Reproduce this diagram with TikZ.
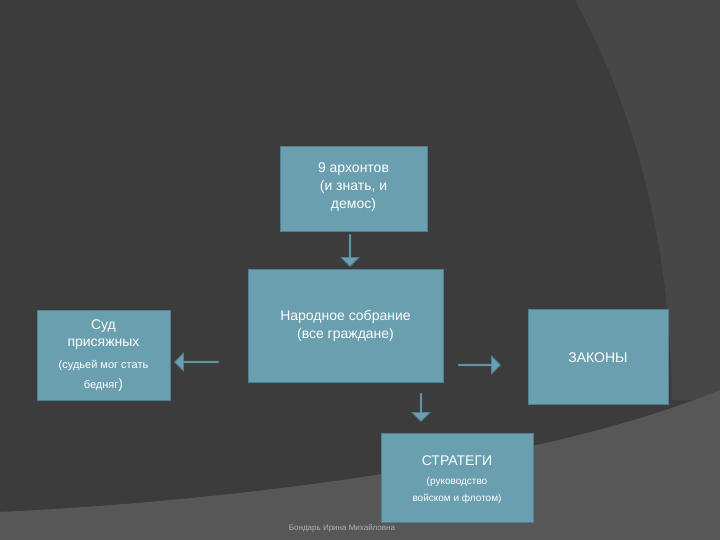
\documentclass[tikz,border=0pt]{standalone}
\usepackage{fontspec}
\setmainfont{Liberation Sans}
\usetikzlibrary{shapes.arrows}
\definecolor{bgdark}{HTML}{3C3C3C}
\definecolor{bgmid}{HTML}{474747}
\definecolor{bglight}{HTML}{575757}
\definecolor{boxfill}{HTML}{6A9FB0}
\definecolor{boxline}{HTML}{4F8193}
\tikzset{
  box/.style={draw=boxline, line width=1pt, fill=boxfill, text=white, align=center, inner sep=0pt},
  blockarrow/.style={single arrow, draw=boxline, fill=boxfill, minimum height=#1, minimum width=18pt, single arrow head extend=3pt, inner sep=0pt, single arrow tip angle=90, line width=0.6pt},
}
\begin{document}
\begin{tikzpicture}[x=1pt,y=-1pt]
\useasboundingbox (0,0) rectangle (720,540);
\fill[bgdark] (0,0) rectangle (720,540);
\fill[bgmid] (575,0) .. controls (640,120) and (670,250) .. (672,400) -- (720,400) -- (720,0) -- cycle;
\fill[bglight] (0,512) .. controls (250,500) and (550,460) .. (720,390) -- (720,540) -- (0,540) -- cycle;

\node[box, minimum width=147pt, minimum height=85pt, anchor=north west] (arch) at (280,146) {};
\node[text=white, align=center, font=\fontsize{14}{18}\selectfont] at (353.5,187) {9 архонтов\\(и знать, и\\демос)};

\node[box, minimum width=195pt, minimum height=113pt, anchor=north west] (nar) at (248,269) {};
\node[text=white, align=center, font=\fontsize{14}{18}\selectfont] at (345.5,326) {Народное собрание\\(все граждане)};

\node[box, minimum width=133pt, minimum height=90pt, anchor=north west] (sud) at (37,310) {};
\node[text=white, align=center, font=\fontsize{14}{17}\selectfont] at (103.5,335) {Суд\\присяжных};
\node[text=white, align=center, font=\fontsize{11}{20}\selectfont] at (103.5,376) {(судьей мог стать\\бедняг{\fontsize{14}{20}\selectfont)}};

\node[box, minimum width=140pt, minimum height=95pt, anchor=north west] (zak) at (528,309) {};
\node[text=white, font=\fontsize{14}{18}\selectfont] at (598,358) {ЗАКОНЫ};

\node[box, minimum width=152pt, minimum height=89pt, anchor=north west] (str) at (381,433) {};
\node[text=white, font=\fontsize{14}{18}\selectfont] at (457,461) {СТРАТЕГИ};
\node[text=white, align=center, font=\fontsize{10}{17}\selectfont] at (457,490) {(руководство\\войском и флотом)};

\node[blockarrow=32pt, shape border rotate=270] (a1) at (350,250) {};
\node[blockarrow=44pt, shape border rotate=180] (a2) at (197,362) {};
\node[blockarrow=42pt] (a3) at (479,365) {};
\node[blockarrow=28pt, shape border rotate=270] (a4) at (421,407) {};

\node[text=gray!60, font=\fontsize{8}{10}\selectfont] (auth) at (342,528) {Бондарь Ирина Михайловна};
\end{tikzpicture}
\end{document}
